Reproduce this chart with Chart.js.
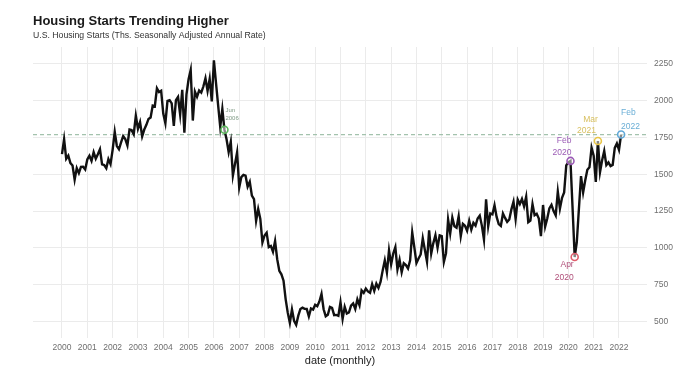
<!DOCTYPE html>
<html>
<head>
<meta charset="utf-8">
<title>Housing Starts Trending Higher</title>
<script src="https://cdn.jsdelivr.net/npm/chart.js@4.4.0/dist/chart.umd.min.js"></script>
<style>
  html, body { margin: 0; padding: 0; background: #fff; }
  #wrap { width: 700px; height: 374px; position: relative; }
</style>
</head>
<body>
<div id="wrap"><canvas id="startsChart"></canvas></div>
<script>
// Monthly housing starts, thousands SAAR, Jan 2000 .. Feb 2022
const firstYear = 2000;
const housingStarts = [
  1636, 1737, 1604, 1626, 1575, 1559, 1463, 1541, 1507, 1549, 1551, 1532, // 2000
  1600, 1625, 1590, 1649, 1605, 1636, 1670, 1567, 1562, 1540, 1602, 1568, // 2001
  1665, 1787, 1691, 1669, 1716, 1758, 1738, 1695, 1803, 1799, 1771, 1896, // 2002
  1808, 1854, 1757, 1803, 1835, 1875, 1885, 1966, 1961, 2083, 2057, 2066, // 2003
  1911, 1846, 1998, 2003, 1981, 1828, 2002, 2024, 1905, 2072, 1782, 2042, // 2004
  2144, 2207, 1864, 2061, 2025, 2068, 2054, 2095, 2151, 2065, 2147, 1994, // 2005
  2273, 2119, 1969, 1821, 1942, 1802, 1737, 1650, 1720, 1491, 1570, 1649, // 2006
  1409, 1480, 1495, 1490, 1415, 1448, 1354, 1330, 1183, 1264, 1197, 1037, // 2007
  1084, 1103, 1005, 1013,  973, 1046,  923,  844,  820,  777,  652,  560, // 2008
   490,  582,  505,  478,  540,  585,  594,  586,  585,  534,  588,  581, // 2009
   614,  604,  636,  687,  583,  536,  546,  599,  593,  543,  545,  539, // 2010
   630,  517,  600,  554,  561,  608,  623,  585,  650,  610,  711,  694, // 2011
   723,  704,  695,  753,  708,  757,  728,  770,  847,  915,  833,  983, // 2012
   888,  962, 1005,  853,  919,  835,  896,  883,  860,  915, 1105, 1003, // 2013
   897,  928,  955, 1065,  985,  906, 1119,  961, 1032, 1086, 1000, 1085, // 2014
  1080,  904,  962, 1192, 1097, 1205, 1146, 1136, 1214, 1079, 1163, 1150, // 2015
  1116, 1184, 1123, 1170, 1151, 1199, 1219, 1151, 1056, 1330, 1146, 1233, // 2016
  1227, 1289, 1210, 1161, 1149, 1233, 1203, 1176, 1192, 1261, 1313, 1195, // 2017
  1327, 1297, 1332, 1282, 1347, 1174, 1185, 1297, 1221, 1231, 1199, 1080, // 2018
  1291, 1144, 1199, 1268, 1292, 1249, 1220, 1382, 1266, 1340, 1376, 1560, // 2019
  1580, 1590, 1269,  938, 1038, 1265, 1487, 1376, 1459, 1530, 1547, 1680, // 2020
  1625, 1447, 1725, 1514, 1594, 1657, 1562, 1580, 1555, 1563, 1678, 1708, // 2021
  1666, 1769                                                              // 2022
];

const yearTicks = [2000, 2001, 2002, 2003, 2004, 2005, 2006, 2007, 2008, 2009, 2010,
  2011, 2012, 2013, 2014, 2015, 2016, 2017, 2018, 2019, 2020, 2021, 2022];
const valueTicks = [500, 750, 1000, 1250, 1500, 1750, 2000, 2250];

// Highlighted months (index into housingStarts)
const markMonths = [77, 241, 243, 254, 265];
const markLabels = [['Jun', '2006'], ['Feb', '2020'], ['Apr', '2020'], ['Mar', '2021'], ['Feb', '2022']];
const markColors = ['#5cb85c', '#9b59b6', '#e0606e', '#e8c547', '#5fa8d8'];

// Label placement / look for each highlight
const labelStyle = [
  { align: 'left',  dx: [1, 1],   dy: [-19, -11], size: 6,   color: '#7f9a85' },
  { align: 'right', dx: [1, 1],   dy: [-20, -8],  size: 8.5, color: '#9b5bb5' },
  { align: 'right', dx: [-1, -1], dy: [8, 21],    size: 8.5, color: '#b0507a' },
  { align: 'right', dx: [0, -2],  dy: [-21, -10], size: 8.5, color: '#d8c060' },
  { align: 'left',  dx: [0, 0],   dy: [-22, -8],  size: 8.5, color: '#6aaed6' }
];

const fontFamily = '"Liberation Sans", Arial, sans-serif';
Chart.defaults.font.family = fontFamily;

function monthX(i) {
  return firstYear + i / 12;
}

// Dashed line at the latest reading
const refLine = {
  id: 'refLine',
  beforeDatasetsDraw(chart) {
    const { ctx, chartArea, scales } = chart;
    const y = scales.y.getPixelForValue(housingStarts[housingStarts.length - 1]);
    ctx.save();
    ctx.strokeStyle = '#a3c2ad';
    ctx.lineWidth = 1.2;
    ctx.setLineDash([4, 3]);
    ctx.beginPath();
    ctx.moveTo(chartArea.left, y);
    ctx.lineTo(chartArea.right, y);
    ctx.stroke();
    ctx.restore();
  }
};

// Month / year text next to highlighted points
const markText = {
  id: 'markText',
  afterDatasetsDraw(chart) {
    const { ctx, scales } = chart;
    ctx.save();
    markMonths.forEach(function(idx, i) {
      const px = scales.x.getPixelForValue(monthX(idx));
      const py = scales.y.getPixelForValue(housingStarts[idx]);
      const st = labelStyle[i];
      ctx.font = st.size + 'px ' + fontFamily;
      ctx.fillStyle = st.color;
      ctx.textAlign = st.align;
      ctx.textBaseline = 'middle';
      markLabels[i].forEach(function(t, k) {
        ctx.fillText(t, px + st.dx[k], py + st.dy[k]);
      });
    });
    ctx.restore();
  }
};

const ctx = document.getElementById('startsChart').getContext('2d');
new Chart(ctx, {
  type: 'line',
  data: {
    datasets: [
      {
        data: markMonths.map(i => ({ x: monthX(i), y: housingStarts[i] })),
        showLine: false,
        pointRadius: 3.5,
        pointBorderWidth: 1.6,
        pointBorderColor: markColors,
        pointBackgroundColor: 'rgba(255,255,255,0.5)',
        order: 0
      },
      {
        data: housingStarts.map((v, i) => ({ x: monthX(i), y: v })),
        borderColor: '#111',
        borderWidth: 2.4,
        pointRadius: 0,
        tension: 0,
        order: 1
      }
    ]
  },
  options: {
    responsive: true,
    maintainAspectRatio: false,
    animation: false,
    layout: { padding: { left: 33, right: 0, top: 0, bottom: 0 } },
    plugins: {
      legend: { display: false },
      tooltip: { enabled: false },
      title: {
        display: true,
        text: 'Housing Starts Trending Higher',
        align: 'start',
        color: '#1a1a1a',
        font: { size: 13, weight: 'bold' },
        padding: { top: 14, bottom: 1 }
      },
      subtitle: {
        display: true,
        text: 'U.S. Housing Starts (Ths. Seasonally Adjusted Annual Rate)',
        align: 'start',
        color: '#333',
        font: { size: 8.7 },
        padding: { top: 0, bottom: 6 }
      }
    },
    scales: {
      x: {
        type: 'linear',
        min: 1998.855,
        max: 2023.106,
        afterBuildTicks: function(s) { s.ticks = yearTicks.map(v => ({ value: v })); },
        afterFit: function(s) { s.height = 36; },
        grid: { color: '#ebebeb', drawTicks: false },
        border: { display: false },
        ticks: {
          padding: 5,
          color: '#6f6f6f',
          font: { size: 8.5 },
          maxRotation: 0,
          autoSkip: false,
          callback: v => String(v)
        },
        title: {
          display: true,
          text: 'date (monthly)',
          color: '#222',
          font: { size: 11 },
          padding: { top: 2, bottom: 6 }
        }
      },
      y: {
        position: 'right',
        min: 388,
        max: 2363,
        afterBuildTicks: function(s) { s.ticks = valueTicks.map(v => ({ value: v })); },
        afterFit: function(s) { s.width = 53; },
        grid: { color: '#ebebeb', drawTicks: false },
        border: { display: false },
        ticks: {
          padding: 7,
          color: '#6f6f6f',
          font: { size: 8.5 },
          callback: v => String(v)
        }
      }
    }
  },
  plugins: [refLine, markText]
});
</script>
</body>
</html>
